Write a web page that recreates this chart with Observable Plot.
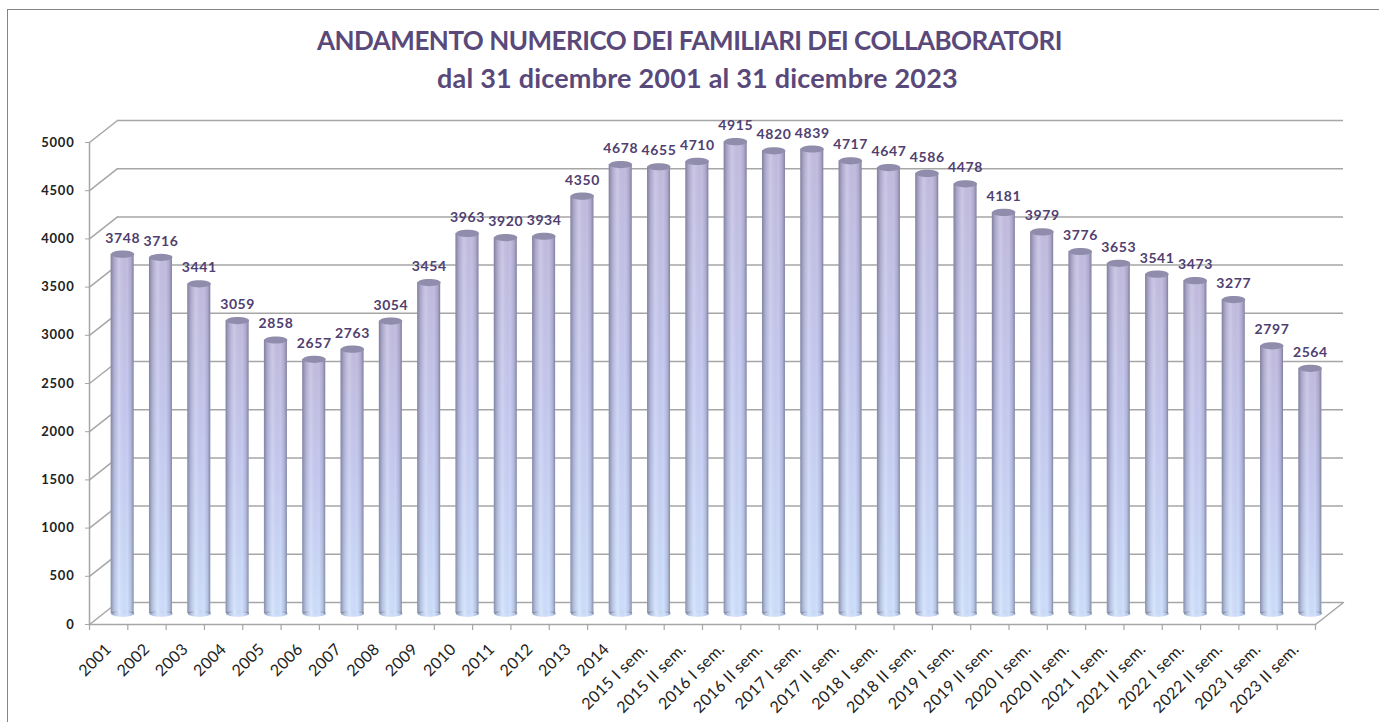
<!DOCTYPE html>
<html lang="it">
<head>
<meta charset="utf-8">
<script src="https://cdn.jsdelivr.net/npm/d3@7"></script>
<script src="https://cdn.jsdelivr.net/npm/@observablehq/plot@0.6"></script>
<style>
  html, body { margin: 0; padding: 0; background: #fff; overflow: hidden; }
  #page { position: relative; width: 1379px; height: 722px; }
  #border { position: absolute; left: 7px; top: 9px; right: 0; bottom: 0;
            border-left: 1.5px solid #858585; border-top: 1.5px solid #858585; pointer-events: none; }
  #title { position: absolute; left: 0; top: 22px; width: 1379px; text-align: center;
           font: bold 26px/37px Lato, sans-serif; color: #59497a; }
  #title .l1 { letter-spacing: -0.5px; }
  #title .l2 { font-size: 27px; letter-spacing: 0.2px; position: relative; left: 8px; }
  #chart { position: absolute; left: 0; top: 110px; }
  #chart svg { display: block; overflow: visible; }
  .vlabel { letter-spacing: 0.6px; }
  .yaxis text { letter-spacing: 0.8px; }
  .xaxis text { letter-spacing: 0.3px; }
</style>
</head>
<body>
<div id="page">
  <div id="border"></div>
  <div id="title"><span class="l1">ANDAMENTO NUMERICO DEI FAMILIARI DEI COLLABORATORI</span><br><span class="l2">dal 31 dicembre 2001 al 31 dicembre 2023</span></div>
  <div id="chart"></div>
</div>
<script>
const categories = [
  "2001","2002","2003","2004","2005","2006","2007","2008","2009","2010","2011","2012","2013","2014",
  "2015 I sem.","2015 II sem.","2016 I sem.","2016 II sem.","2017 I sem.","2017 II sem.",
  "2018 I sem.","2018 II sem.","2019 I sem.","2019 II sem.","2020 I sem.","2020 II sem.",
  "2021 I sem.","2021 II sem.","2022 I sem.","2022 II sem.","2023 I sem.","2023 II sem."
];
const values = [
  3748,3716,3441,3059,2858,2657,2763,3054,3454,3963,3920,3934,4350,4678,
  4655,4710,4915,4820,4839,4717,4647,4586,4478,4181,3979,3776,3653,3541,3473,3277,2797,2564
];
const yTicks = [0,500,1000,1500,2000,2500,3000,3500,4000,4500,5000];

const table = categories.map((category, i) => ({category, value: values[i]}));
const lastCategory = categories.slice(-1);

// 3-D look: depth offset of the back wall and of the middle of the floor
const depthX = 28, depthY = 22;
const barDx = depthX / 2, barDy = -11;
const halfBand = 19.15;
const grid = "#a6a6a6";
const font = "Lato, sans-serif";

const ellipse = (rx, ry) => ({
  draw(ctx) {
    const k = 0.5523;
    ctx.moveTo(-rx, 0);
    ctx.bezierCurveTo(-rx, -ry * k, -rx * k, -ry, 0, -ry);
    ctx.bezierCurveTo(rx * k, -ry, rx, -ry * k, rx, 0);
    ctx.bezierCurveTo(rx, ry * k, rx * k, ry, 0, ry);
    ctx.bezierCurveTo(-rx * k, ry, -rx, ry * k, -rx, 0);
    ctx.closePath();
  }
});
const segment = {draw(ctx, l) { ctx.moveTo(0, 0); ctx.lineTo(0, -l); }};
const sideOptions = {
  y: d => d, length: Math.hypot(depthX, depthY), rotate: Math.atan2(depthX, depthY) * 180 / Math.PI,
  anchor: "start", shape: segment, stroke: grid, strokeWidth: 1.5
};

const plot = Plot.plot({
  width: 1379, height: 612,
  marginLeft: 89, marginRight: 64, marginTop: 32, marginBottom: 98,
  style: {fontFamily: font, background: "transparent"},
  x: {type: "band", domain: categories, paddingInner: 0.4, paddingOuter: 0.2, round: false, label: null},
  y: {domain: [0, 5000], label: null},
  marks: [
    // back wall
    Plot.ruleY(yTicks, {dx: depthX, dy: -depthY, stroke: grid, strokeWidth: 1.5}),
    // side wall and floor
    Plot.vector(yTicks, {...sideOptions, frameAnchor: "left"}),
    Plot.vector([0], {...sideOptions, frameAnchor: "right"}),
    Plot.frame({anchor: "left", stroke: grid, strokeWidth: 1.5}),
    Plot.frame({anchor: "bottom", stroke: grid, strokeWidth: 1.5}),
    // x tick marks on the band boundaries
    Plot.ruleX(categories, {x: d => d, y1: 0, y2: -62, dx: -halfBand, stroke: grid, strokeWidth: 1.2}),
    Plot.ruleX(lastCategory, {x: d => d, y1: 0, y2: -62, dx: halfBand, stroke: grid, strokeWidth: 1.2}),
    // axes
    Plot.axisY({ticks: yTicks, tickSize: 4, tickPadding: 11, stroke: grid, className: "yaxis",
      fill: "#222", fontSize: 13, fontWeight: "bold", label: null, tickFormat: d => String(d)}),
    Plot.axisX({tickRotate: -45, tickSize: 0, tickPadding: 22, fill: "#222", fontSize: 16, label: null, className: "xaxis"}),
    // cylinders
    Plot.dot(table, {x: "category", y: 0, dy: barDy, symbol: ellipse(11.5, 3.2), fill: "#cfe0fd", stroke: "none"}),
    Plot.barY(table, {x: "category", y: "value", dy: barDy, insetTop: 2, fill: "url(#barBody)"}),
    Plot.dot(table, {x: "category", y: 0, dy: barDy, symbol: ellipse(11.5, 3.2), fill: "url(#barShade)", stroke: "none"}),
    Plot.barY(table, {x: "category", y: "value", dy: barDy, insetTop: 2, fill: "url(#barShade)"}),
    Plot.dot(table, {x: "category", y: "value", dy: barDy + 2, symbol: ellipse(11.5, 3.6), fill: "#8f8dab", stroke: "none"}),
    // value labels
    Plot.text(table, {x: "category", y: "value", text: d => String(d.value), dx: barDx, dy: barDy - 14,
      fill: "#4f4070", fontSize: 14, fontWeight: "bold", className: "vlabel"}),
  ]
});

// shift all cylinder marks to the middle of the floor's depth
plot.querySelectorAll("g[aria-label='dot'], g[aria-label='bar']").forEach(g => {
  g.setAttribute("transform", `translate(${barDx},0) ` + (g.getAttribute("transform") || ""));
});

const defs = document.createElementNS("http://www.w3.org/2000/svg", "defs");
defs.innerHTML = `
  <linearGradient id="barBody" x1="0" y1="0" x2="0" y2="1">
    <stop offset="0" stop-color="#c3bcdf"/>
    <stop offset="0.45" stop-color="#c6caf0"/>
    <stop offset="1" stop-color="#cfe0fd"/>
  </linearGradient>
  <linearGradient id="barShade" x1="0" y1="0" x2="1" y2="0">
    <stop offset="0" stop-color="#4a4d68" stop-opacity="0.55"/>
    <stop offset="0.14" stop-color="#4a4d68" stop-opacity="0.22"/>
    <stop offset="0.38" stop-color="#ffffff" stop-opacity="0.15"/>
    <stop offset="0.72" stop-color="#4a4d68" stop-opacity="0"/>
    <stop offset="0.88" stop-color="#4a4d68" stop-opacity="0.18"/>
    <stop offset="1" stop-color="#4a4d68" stop-opacity="0.55"/>
  </linearGradient>`;
plot.prepend(defs);
document.getElementById("chart").append(plot);
</script>
</body>
</html>
